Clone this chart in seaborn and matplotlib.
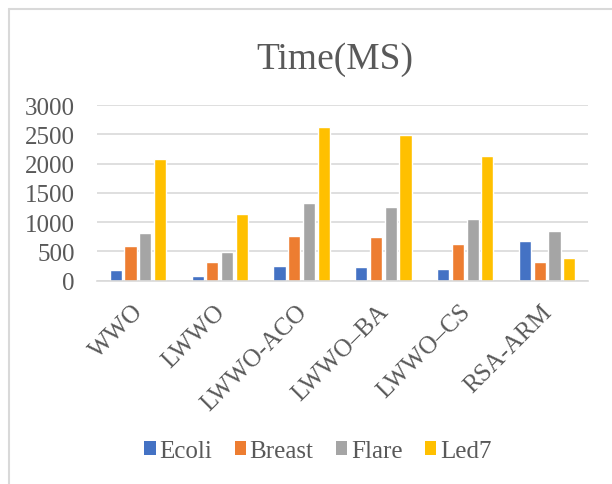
import matplotlib
matplotlib.use("Agg")
import matplotlib.pyplot as plt
import matplotlib.transforms as mtransforms
import seaborn as sns
import pandas as pd
from matplotlib.patches import Patch
from matplotlib.lines import Line2D

categories = ["WWO", "LWWO", "LWWO-ACO", "LWWO\u2013BA", "LWWO\u2013CS", "RSA-ARM"]
series_names = ["Ecoli", "Breast", "Flare", "Led7"]
ecoli = [188, 80, 245, 228, 199, 683]
breast = [586, 319, 762, 751, 620, 324]
flare = [819, 484, 1331, 1252, 1053, 854]
led7 = [2077, 1132, 2617, 2492, 2128, 387]
colors = ["#4472C4", "#ED7D31", "#A5A5A5", "#FFC000"]
yticks = [0, 500, 1000, 1500, 2000, 2500, 3000]

rows = []
for name, vals in zip(series_names, [ecoli, breast, flare, led7]):
    for c, v in zip(categories, vals):
        rows.append({"cat": c, "series": name, "value": v})
df = pd.DataFrame(rows)

sns.set_theme(style="white")
plt.rcParams["font.family"] = ["Liberation Serif", "DejaVu Serif"]

fig = plt.figure(figsize=(6.12, 4.85), dpi=100)
ax = fig.add_axes([97 / 612, 1 - 281.7 / 485, (588 - 97) / 612, (281.7 - 106) / 485])

sns.barplot(data=df, x="cat", y="value", hue="series", palette=colors,
            width=0.72, gap=0.17, ax=ax, legend=False, saturation=1)

ax.set_ylim(0, 3000)
ax.set_xlim(-0.5, len(categories) - 0.5)
ax.set_yticks(yticks)
ax.set_yticklabels([str(t) for t in yticks])
ax.yaxis.grid(True, color="#D9D9D9", linewidth=1.2)
ax.set_axisbelow(True)
for s in ax.spines.values():
    s.set_visible(False)
ax.spines["bottom"].set_visible(True)
ax.spines["bottom"].set_color("#D9D9D9")
ax.spines["bottom"].set_linewidth(1.2)
ax.tick_params(axis="both", length=0, colors="#595959", labelsize=18)
ax.tick_params(axis="y", pad=16)
ax.set_xlabel("")
ax.set_ylabel("")
ax.tick_params(axis="x", pad=14)
offset = mtransforms.ScaledTranslation(-6 / 100, 0, fig.dpi_scale_trans)
for lbl in ax.get_xticklabels():
    lbl.set_rotation(45)
    lbl.set_ha("right")
    lbl.set_rotation_mode("anchor")
    lbl.set_fontsize(18)
    lbl.set_transform(lbl.get_transform() + offset)

fig.text(335 / 612, 1 - 60 / 485, "Time(MS)", ha="center", va="center",
         fontsize=27, color="#595959")

handles = [Patch(facecolor=c, edgecolor="none", label=n) for c, n in zip(colors, series_names)]
fig.legend(handles=handles, loc="center", bbox_to_anchor=(318 / 612, 1 - 452 / 485),
           ncol=4, frameon=False, fontsize=18, handlelength=0.45, handleheight=0.45,
           handletextpad=0.15, columnspacing=0.9, labelcolor="#595959")

fig.add_artist(Line2D([9 / 612, 9 / 612], [0, 1 - 10 / 485], transform=fig.transFigure,
                      color="#D9D9D9", linewidth=1.5))
fig.add_artist(Line2D([9 / 612, 1], [1 - 10 / 485, 1 - 10 / 485], transform=fig.transFigure,
                      color="#D9D9D9", linewidth=1.5))

fig.savefig("out.png", dpi=100)
